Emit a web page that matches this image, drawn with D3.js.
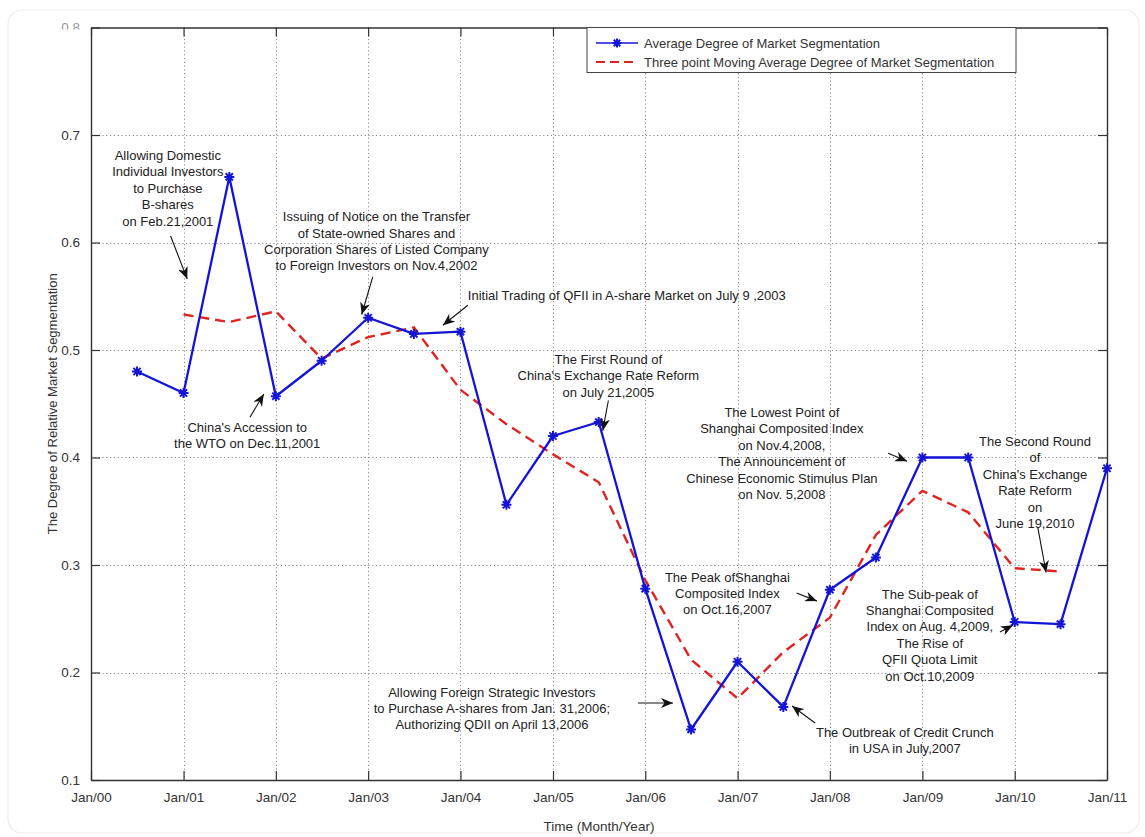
<!DOCTYPE html>
<html>
<head>
<meta charset="utf-8">
<script src="https://cdn.jsdelivr.net/npm/d3@7"></script>
<style>
  html, body { margin: 0; padding: 0; background: #fff; }
  svg { display: block; font-family: "Liberation Sans", Arial, Helvetica, sans-serif; }
</style>
</head>
<body>
<script>
// Half-yearly observation periods
const periods = ["2000-07","2001-01","2001-07","2002-01","2002-07","2003-01","2003-07","2004-01",
  "2004-07","2005-01","2005-07","2006-01","2006-07","2007-01","2007-07","2008-01",
  "2008-07","2009-01","2009-07","2010-01","2010-07","2011-01"];

// Average degree of market segmentation
const avgSegmentation = [0.480, 0.460, 0.661, 0.457, 0.490, 0.530, 0.515, 0.517,
  0.356, 0.420, 0.433, 0.278, 0.147, 0.210, 0.168, 0.277,
  0.307, 0.400, 0.400, 0.247, 0.245, 0.390];

// Three point moving average (Jan/01 .. Jul/10)
const movingPeriods = ["2001-01","2001-07","2002-01","2002-07","2003-01","2003-07","2004-01",
  "2004-07","2005-01","2005-07","2006-01","2006-07","2007-01","2007-07","2008-01",
  "2008-07","2009-01","2009-07","2010-01","2010-07"];
const movingAvg = [0.533, 0.526, 0.536, 0.492, 0.512, 0.521, 0.463,
  0.431, 0.403, 0.377, 0.286, 0.212, 0.176, 0.219, 0.251,
  0.328, 0.369, 0.349, 0.297, 0.294];

// Axis ticks
const xTickYears = [2000,2001,2002,2003,2004,2005,2006,2007,2008,2009,2010,2011];
const yTickValues = [0.1,0.2,0.3,0.4,0.5,0.6,0.7,0.8];

const seriesNames = ["Average Degree of Market Segmentation",
  "Three point Moving Average Degree of Market Segmentation"];

// Event notes: text lines, first-line centre (year, value), arrow tail and tip (year, value)
const notes = [
  {lines:["Allowing Domestic","Individual Investors","to Purchase","B-shares","on Feb.21,2001"],
   at:[2000.83,0.681], from:[2000.86,0.606], to:[2001.04,0.566]},
  {lines:["Issuing of Notice on the Transfer","of State-owned Shares and","Corporation Shares of Listed Company","to Foreign Investors on Nov.4,2002"],
   at:[2003.09,0.624], from:[2003.05,0.568], to:[2002.93,0.533]},
  {lines:["Initial Trading of QFII in A-share Market on July 9 ,2003"],
   at:[2004.08,0.551], anchor:"start", from:[2004.08,0.5416], to:[2003.81,0.523]},
  {lines:["The First Round of","China's Exchange Rate Reform","on July 21,2005"],
   at:[2005.60,0.4914], from:[2005.60,0.453], to:[2005.54,0.425]},
  {lines:["China's Accession to","the WTO on Dec.11,2001"],
   at:[2001.69,0.428], from:[2001.72,0.4375], to:[2001.87,0.459]},
  {lines:["The Lowest Point of","Shanghai Composited Index","on Nov.4,2008,","The Announcement of","Chinese Economic Stimulus Plan","on Nov. 5,2008"],
   at:[2007.48,0.442], from:[2008.63,0.404], to:[2008.835,0.3966]},
  {lines:["The Second Round","of","China's Exchange","Rate Reform","on","June 19,2010"],
   at:[2010.22,0.415], from:[2010.25,0.335], to:[2010.34,0.293]},
  {lines:["The Peak ofShanghai","Composited Index","on Oct.16,2007"],
   at:[2006.89,0.2887], from:[2007.64,0.274], to:[2007.86,0.2664]},
  {lines:["The Sub-peak of","Shanghai Composited","Index on Aug. 4,2009,","The Rise of","QFII Quota Limit","on Oct.10,2009"],
   at:[2009.08,0.273], from:[2009.84,0.2376], to:[2009.98,0.244]},
  {lines:["Allowing Foreign Strategic Investors","to Purchase A-shares from Jan. 31,2006;","Authorizing QDII on April 13,2006"],
   at:[2004.34,0.1818], from:[2005.92,0.1716], to:[2006.30,0.1716]},
  {lines:["The Outbreak of Credit Crunch","in USA in July,2007"],
   at:[2008.81,0.1446], from:[2007.84,0.153], to:[2007.59,0.1688]}
];

const W = 1145, H = 837;
const margin = {left: 91, top: 27.5, right: 38, bottom: 57};
const parseMonth = d3.timeParse("%Y-%m");
const yearDate = yf => {
  const y0 = Math.floor(yf);
  const a = new Date(y0, 0, 1), b = new Date(y0 + 1, 0, 1);
  return new Date(+a + (yf - y0) * (b - a));
};

const x = d3.scaleTime()
  .domain([new Date(2000,0,1), new Date(2011,0,1)])
  .range([margin.left, W - margin.right]);
const y = d3.scaleLinear()
  .domain([0.1, 0.8])
  .range([H - margin.bottom, margin.top]);

const svg = d3.select("body").append("svg").attr("width", W).attr("height", H);

const defs = svg.append("defs");
defs.append("marker")
  .attr("id", "head")
  .attr("markerUnits", "userSpaceOnUse")
  .attr("markerWidth", 13).attr("markerHeight", 10)
  .attr("refX", 12).attr("refY", 5)
  .attr("orient", "auto")
  .append("path")
  .attr("d", "M0,0 L12,5 L0,10 L3.5,5 Z")
  .attr("fill", "#111");
// the top tick label is cut off along the figure's upper edge
defs.append("clipPath").attr("id", "topcut")
  .append("rect").attr("x", -60).attr("y", -20).attr("width", 60).attr("height", 21.5);

// faint outer frame
svg.append("rect")
  .attr("x", 8).attr("y", 10).attr("width", W - 14).attr("height", H - 14)
  .attr("rx", 14)
  .attr("fill", "none").attr("stroke", "#ececec").attr("stroke-width", 1.2);

const x0 = margin.left, x1 = W - margin.right, y0 = H - margin.bottom, y1 = margin.top;
const xTicks = xTickYears.map(v => new Date(v, 0, 1));

// grid
const grid = svg.append("g").attr("stroke", "#8a8a8a").attr("stroke-width", 1)
  .attr("stroke-dasharray", "1.2,2.6").attr("fill", "none");
grid.selectAll("line.v").data(xTicks.slice(1, -1)).join("line")
  .attr("x1", d => Math.round(x(d)) + 0.5).attr("x2", d => Math.round(x(d)) + 0.5)
  .attr("y1", y1).attr("y2", y0);
grid.selectAll("line.h").data(yTickValues.slice(1, -1)).join("line")
  .attr("y1", d => Math.round(y(d)) + 0.5).attr("y2", d => Math.round(y(d)) + 0.5)
  .attr("x1", x0).attr("x2", x1);

// axes (MATLAB style, inward ticks on all four sides)
const tickLen = 9;
const styleAxis = g => {
  g.selectAll(".domain").attr("stroke", "#333").attr("stroke-width", 1.4);
  g.selectAll(".tick line").attr("stroke", "#333").attr("stroke-width", 1.2);
  g.selectAll(".tick text").attr("fill", "#333").attr("font-size", 13.5)
    .attr("font-family", "Liberation Sans, Arial, sans-serif");
};
svg.append("g").attr("transform", `translate(0,${y0})`)
  .call(d3.axisBottom(x).tickValues(xTicks).tickFormat(d3.timeFormat("Jan/%y"))
    .tickSizeInner(-tickLen).tickSizeOuter(0).tickPadding(tickLen + 3))
  .call(styleAxis);
svg.append("g").attr("transform", `translate(0,${y1})`)
  .call(d3.axisTop(x).tickValues(xTicks).tickFormat("").tickSizeInner(-tickLen).tickSizeOuter(0))
  .call(styleAxis);
const leftAxis = svg.append("g").attr("transform", `translate(${x0},0)`)
  .call(d3.axisLeft(y).tickValues(yTickValues).tickFormat(d3.format(".1f"))
    .tickSizeInner(-tickLen).tickSizeOuter(0).tickPadding(tickLen + 2))
  .call(styleAxis);
leftAxis.selectAll(".tick text").filter(d => d === 0.8)
  .attr("clip-path", "url(#topcut)").attr("fill", "#999");
svg.append("g").attr("transform", `translate(${x1},0)`)
  .call(d3.axisRight(y).tickValues(yTickValues).tickFormat("").tickSizeInner(-tickLen).tickSizeOuter(0))
  .call(styleAxis);

// axis titles
svg.append("text")
  .attr("x", (x0 + x1) / 2).attr("y", 831)
  .attr("text-anchor", "middle").attr("font-size", 13.5).attr("fill", "#333")
  .text("Time (Month/Year)");
svg.append("text")
  .attr("transform", `translate(57,${(y0 + y1) / 2}) rotate(-90)`)
  .attr("text-anchor", "middle").attr("font-size", 13).attr("fill", "#333")
  .text("The Degree of Relative Market Segmentation");

// series
const blue = "#1414d6", red = "#de2323";
const avgData = periods.map((p, i) => ({date: parseMonth(p), value: avgSegmentation[i]}));
const movData = movingPeriods.map((p, i) => ({date: parseMonth(p), value: movingAvg[i]}));
const line = d3.line().x(d => x(d.date)).y(d => y(d.value));

svg.append("path").datum(movData)
  .attr("d", line).attr("fill", "none")
  .attr("stroke", red).attr("stroke-width", 2.4).attr("stroke-dasharray", "10,6");

svg.append("path").datum(avgData)
  .attr("d", line).attr("fill", "none")
  .attr("stroke", blue).attr("stroke-width", 2.3).attr("stroke-linejoin", "round");

const star = r => `M${-r},0H${r}M0,${-r}V${r}M${-r*0.72},${-r*0.72}L${r*0.72},${r*0.72}M${-r*0.72},${r*0.72}L${r*0.72},${-r*0.72}`;
svg.append("g").selectAll("path").data(avgData).join("path")
  .attr("transform", d => `translate(${x(d.date)},${y(d.value)})`)
  .attr("d", star(5)).attr("stroke", blue).attr("stroke-width", 2).attr("fill", "none");

// event notes
const lineH = 16.4;
const noteG = svg.append("g").attr("font-size", 13).attr("fill", "#222");
notes.forEach(n => {
  const t = noteG.append("text")
    .attr("text-anchor", n.anchor || "middle")
    .attr("x", x(yearDate(n.at[0])));
  n.lines.forEach((s, i) => {
    t.append("tspan")
      .attr("x", x(yearDate(n.at[0])))
      .attr("y", y(n.at[1]) + i * lineH)
      .attr("dy", "0.35em")
      .text(s);
  });
  svg.append("line")
    .attr("x1", x(yearDate(n.from[0]))).attr("y1", y(n.from[1]))
    .attr("x2", x(yearDate(n.to[0]))).attr("y2", y(n.to[1]))
    .attr("stroke", "#111").attr("stroke-width", 1.1)
    .attr("marker-end", "url(#head)");
});

// legend
const lg = svg.append("g").attr("transform", "translate(587,27.5)");
lg.append("rect").attr("width", 429).attr("height", 45)
  .attr("fill", "#fff").attr("stroke", "#444").attr("stroke-width", 1);
const rowY = [15.5, 34.5];
lg.append("line").attr("x1", 9).attr("x2", 51).attr("y1", rowY[0]).attr("y2", rowY[0])
  .attr("stroke", blue).attr("stroke-width", 1.6);
lg.append("path").attr("transform", `translate(30,${rowY[0]})`).attr("d", star(4.5))
  .attr("stroke", blue).attr("stroke-width", 2).attr("fill", "none");
lg.append("line").attr("x1", 9).attr("x2", 51).attr("y1", rowY[1]).attr("y2", rowY[1])
  .attr("stroke", red).attr("stroke-width", 2).attr("stroke-dasharray", "9,5");
seriesNames.forEach((s, i) => {
  lg.append("text").attr("x", 57).attr("y", rowY[i]).attr("dy", "0.35em")
    .attr("font-size", 13).attr("fill", "#333").text(s);
});
</script>
</body>
</html>
